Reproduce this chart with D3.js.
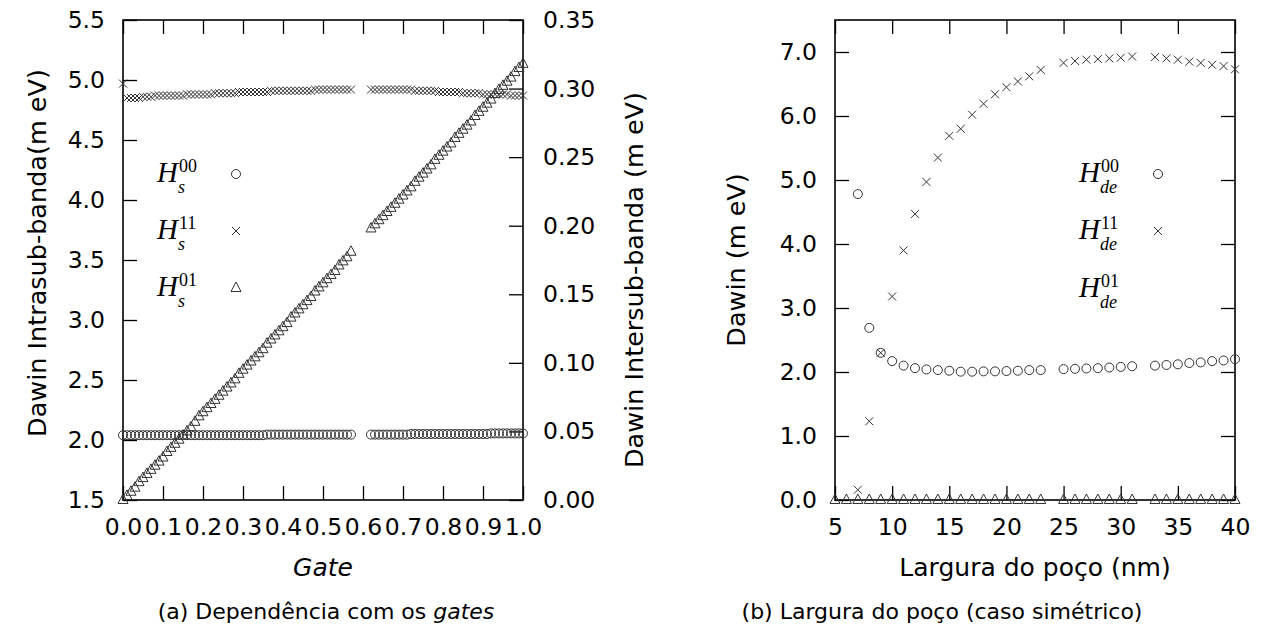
<!DOCTYPE html>
<html>
<head>
<meta charset="utf-8">
<script src="https://cdn.jsdelivr.net/npm/d3@7/dist/d3.min.js"></script>
<style>
  body { margin: 0; background: #fff; }
  svg { display: block; }
  .tick line { stroke: #000; stroke-width: 1.3; }
  .mk { fill: none; stroke: #333; stroke-width: 1; }
</style>
</head>
<body>
<svg width="1272" height="628"></svg>
<script>
// (a) gate dependence
const gate = [
  0.00,0.01,0.02,0.03,0.04,0.05,0.06,0.07,0.08,0.09,
  0.10,0.11,0.12,0.13,0.14,0.15,0.16,0.17,0.18,0.19,
  0.20,0.21,0.22,0.23,0.24,0.25,0.26,0.27,0.28,0.29,
  0.30,0.31,0.32,0.33,0.34,0.35,0.36,0.37,0.38,0.39,
  0.40,0.41,0.42,0.43,0.44,0.45,0.46,0.47,0.48,0.49,
  0.50,0.51,0.52,0.53,0.54,0.55,0.56,0.57,
  0.62,0.63,0.64,0.65,0.66,0.67,0.68,0.69,0.70,0.71,
  0.72,0.73,0.74,0.75,0.76,0.77,0.78,0.79,0.80,0.81,
  0.82,0.83,0.84,0.85,0.86,0.87,0.88,0.89,0.90,0.91,
  0.92,0.93,0.94,0.95,0.96,0.97,0.98,0.99,1.00
];
const hs00 = [
  2.04,2.04,2.04,2.04,2.04,2.04,2.04,2.04,2.04,2.04,
  2.04,2.04,2.04,2.04,2.04,2.04,2.04,2.04,2.04,2.04,
  2.04,2.04,2.04,2.04,2.04,2.04,2.04,2.04,2.04,2.04,
  2.04,2.04,2.04,2.04,2.04,2.04,2.045,2.045,2.045,2.045,
  2.045,2.045,2.045,2.045,2.045,2.045,2.045,2.045,2.045,2.045,
  2.045,2.045,2.045,2.045,2.045,2.045,2.045,2.045,
  2.045,2.045,2.045,2.045,2.045,2.045,2.045,2.045,2.045,2.045,
  2.05,2.05,2.05,2.05,2.05,2.05,2.05,2.05,2.05,2.05,
  2.05,2.05,2.05,2.05,2.05,2.05,2.05,2.05,2.05,2.05,
  2.055,2.055,2.055,2.055,2.055,2.055,2.055,2.055,2.055
];
const hs11 = [
  4.97,4.85,4.85,4.85,4.85,4.86,4.86,4.86,4.87,4.87,
  4.87,4.87,4.87,4.87,4.87,4.87,4.88,4.88,4.88,4.88,
  4.88,4.88,4.88,4.89,4.89,4.89,4.89,4.89,4.89,4.90,
  4.90,4.90,4.90,4.90,4.90,4.90,4.90,4.91,4.91,4.91,
  4.91,4.91,4.91,4.91,4.91,4.91,4.91,4.91,4.92,4.92,
  4.92,4.92,4.92,4.92,4.92,4.92,4.92,4.92,
  4.92,4.92,4.92,4.92,4.92,4.92,4.92,4.92,4.92,4.92,
  4.92,4.91,4.91,4.91,4.91,4.91,4.91,4.90,4.90,4.90,
  4.90,4.90,4.90,4.89,4.89,4.89,4.89,4.89,4.88,4.88,
  4.88,4.88,4.88,4.88,4.88,4.87,4.87,4.87,4.87
];
const hs01 = [
  0.000,0.003,0.006,0.009,0.013,0.016,0.019,0.022,0.025,0.028,
  0.031,0.035,0.038,0.041,0.044,0.047,0.050,0.053,0.057,0.061,
  0.064,0.067,0.070,0.073,0.076,0.079,0.082,0.085,0.088,0.092,
  0.095,0.098,0.101,0.104,0.107,0.110,0.114,0.117,0.120,0.123,
  0.126,0.129,0.133,0.136,0.139,0.142,0.145,0.148,0.152,0.155,
  0.158,0.161,0.164,0.167,0.171,0.174,0.177,0.181,
  0.198,0.201,0.204,0.207,0.210,0.213,0.216,0.219,0.222,0.225,
  0.228,0.232,0.235,0.238,0.241,0.244,0.248,0.251,0.254,0.257,
  0.260,0.264,0.267,0.270,0.273,0.276,0.280,0.283,0.286,0.289,
  0.292,0.296,0.299,0.302,0.305,0.308,0.312,0.315,0.318
];
const gateTicks = [0,0.1,0.2,0.3,0.4,0.5,0.6,0.7,0.8,0.9,1.0];
const intraTicks = [1.5,2.0,2.5,3.0,3.5,4.0,4.5,5.0,5.5];
const interTicks = [0,0.05,0.10,0.15,0.20,0.25,0.30,0.35];

// (b) well width, symmetric case
const largura = [5,6,7,8,9,10,11,12,13,14,15,16,17,18,19,20,21,22,23,
  25,26,27,28,29,30,31, 33,34,35,36,37,38,39,40];
const hde00 = [null,null,4.78,2.69,2.30,2.17,2.10,2.06,2.04,2.03,2.02,2.005,2.005,2.01,2.01,2.015,2.02,2.03,2.03,
  2.045,2.05,2.055,2.06,2.07,2.08,2.09, 2.10,2.11,2.12,2.14,2.15,2.17,2.18,2.20];
const hde11 = [null,null,0.16,1.23,2.30,3.18,3.90,4.47,4.97,5.35,5.69,5.80,6.02,6.19,6.34,6.45,6.54,6.62,6.72,
  6.83,6.86,6.88,6.89,6.90,6.91,6.93, 6.92,6.90,6.88,6.85,6.83,6.80,6.78,6.73];
const hde01 = [0,0,0,0,0,0,0,0,0,0,0,0,0,0,0,0,0,0,0,
  0,0,0,0,0,0,0, 0,0,0,0,0,0,0,0];
const larguraTicks = [5,10,15,20,25,30,35,40];
const dawinTicks = [0,1,2,3,4,5,6,7];

const svg = d3.select('svg');
const tickFont = 'DejaVu Sans';
const tickSize = 23.5;
const TK = 14;

const circle = 'M4.5,0A4.5,4.5 0 1,1 -4.5,0A4.5,4.5 0 1,1 4.5,0Z';
const cross = 'M-4,-4L4,4M-4,4L4,-4';
const tri = 'M0,-6L5,3.5H-5Z';

function styleAxis(g) {
  g.select('.domain').remove();
  g.selectAll('text').attr('font-family', tickFont).attr('font-size', tickSize).attr('fill', '#000');
}

function markers(xs, ys, x, y, shape) {
  const pts = xs.map((d, i) => ({x: d, y: ys[i]})).filter(d => d.y != null);
  svg.append('g').selectAll('path')
    .data(pts)
    .enter()
    .append('path')
    .attr('class', 'mk')
    .attr('d', shape)
    .attr('transform', d => `translate(${x(d.x)},${y(d.y)})`);
}

// H with stacked super/subscript
function legendEntry(x0, base, sup, sub, sym, sx) {
  const t = svg.append('text').attr('font-family', 'Liberation Serif').attr('fill', '#000')
    .attr('x', x0).attr('y', base);
  t.append('tspan').attr('font-size', 29).attr('font-style', 'italic').text('H');
  t.append('tspan').attr('x', x0 + 22).attr('y', base - 10).attr('font-size', 18).text(sup);
  t.append('tspan').attr('x', x0 + 21).attr('y', base + 11).attr('font-size', 18).attr('font-style', 'italic').text(sub);
  if (sym) {
    svg.append('path').attr('class', 'mk').attr('d', sym)
      .attr('transform', `translate(${sx},${base - 8})`);
  }
}

// ---------- panel (a) ----------
const xA = d3.scaleLinear().domain([0, 1]).range([123, 523]);
const yA = d3.scaleLinear().domain([1.5, 5.5]).range([500, 20]);
const yA2 = d3.scaleLinear().domain([0, 0.35]).range([500, 20]);

svg.append('g').attr('transform', 'translate(0,500)')
  .call(d3.axisBottom(xA).tickValues(gateTicks).tickFormat(d3.format('.1f')).tickSizeInner(-TK).tickSizeOuter(0).tickPadding(18))
  .call(styleAxis);
svg.append('g').attr('transform', 'translate(0,20)')
  .call(d3.axisTop(xA).tickValues(gateTicks).tickFormat('').tickSizeInner(-TK).tickSizeOuter(0))
  .call(styleAxis);
svg.append('g').attr('transform', 'translate(123,0)')
  .call(d3.axisLeft(yA).tickValues(intraTicks).tickFormat(d3.format('.1f')).tickSizeInner(-TK).tickSizeOuter(0).tickPadding(18))
  .call(styleAxis);
svg.append('g').attr('transform', 'translate(523,0)')
  .call(d3.axisRight(yA2).tickValues(interTicks).tickFormat(d3.format('.2f')).tickSizeInner(-TK).tickSizeOuter(0).tickPadding(20))
  .call(styleAxis);
svg.append('rect').attr('x', 123).attr('y', 20).attr('width', 400).attr('height', 480)
  .attr('fill', 'none').attr('stroke', '#000').attr('stroke-width', 1.6);

markers(gate, hs00, xA, yA, circle);
markers(gate, hs11, xA, yA, cross);
markers(gate, hs01, xA, yA2, tri);

legendEntry(157, 182, '00', 's', circle, 236);
legendEntry(157, 239, '11', 's', cross, 236);
legendEntry(157, 296, '01', 's', tri, 236);

svg.append('text').attr('transform', 'translate(46,253) rotate(-90)')
  .attr('text-anchor', 'middle').attr('font-family', tickFont).attr('font-size', 25.5)
  .text('Dawin Intrasub-banda(m eV)');
svg.append('text').attr('transform', 'translate(643,280) rotate(-90)')
  .attr('text-anchor', 'middle').attr('font-family', tickFont).attr('font-size', 25.5)
  .text('Dawin Intersub-banda (m eV)');
svg.append('text').attr('x', 323).attr('y', 576).attr('text-anchor', 'middle')
  .attr('font-family', tickFont).attr('font-size', 25).attr('font-style', 'italic').text('Gate');
const capA = svg.append('text').attr('x', 326).attr('y', 619).attr('text-anchor', 'middle')
  .attr('font-family', tickFont).attr('font-size', 22);
capA.append('tspan').text('(a) Dependência com os ');
capA.append('tspan').attr('font-style', 'italic').text('gates');

// ---------- panel (b) ----------
const xB = d3.scaleLinear().domain([5, 40]).range([835, 1235]);
const yB = d3.scaleLinear().domain([0, 7.5]).range([500, 20]);

svg.append('g').attr('transform', 'translate(0,500)')
  .call(d3.axisBottom(xB).tickValues(larguraTicks).tickFormat(d3.format('d')).tickSizeInner(-TK).tickSizeOuter(0).tickPadding(18))
  .call(styleAxis);
svg.append('g').attr('transform', 'translate(0,20)')
  .call(d3.axisTop(xB).tickValues(larguraTicks).tickFormat('').tickSizeInner(-TK).tickSizeOuter(0))
  .call(styleAxis);
svg.append('g').attr('transform', 'translate(835,0)')
  .call(d3.axisLeft(yB).tickValues(dawinTicks).tickFormat(d3.format('.1f')).tickSizeInner(-TK).tickSizeOuter(0).tickPadding(18))
  .call(styleAxis);
svg.append('g').attr('transform', 'translate(1235,0)')
  .call(d3.axisRight(yB).tickValues(dawinTicks).tickFormat('').tickSizeInner(-TK).tickSizeOuter(0))
  .call(styleAxis);
svg.append('rect').attr('x', 835).attr('y', 20).attr('width', 400).attr('height', 480)
  .attr('fill', 'none').attr('stroke', '#000').attr('stroke-width', 1.6);

markers(largura, hde00, xB, yB, circle);
markers(largura, hde11, xB, yB, cross);
markers(largura, hde01, xB, yB, tri);

legendEntry(1079, 182, '00', 'de', circle, 1158);
legendEntry(1079, 239, '11', 'de', cross, 1158);
legendEntry(1079, 297, '01', 'de', null, 1158);

svg.append('text').attr('transform', 'translate(745,260) rotate(-90)')
  .attr('text-anchor', 'middle').attr('font-family', tickFont).attr('font-size', 25.5)
  .text('Dawin (m eV)');
svg.append('text').attr('x', 1035).attr('y', 576).attr('text-anchor', 'middle')
  .attr('font-family', tickFont).attr('font-size', 25).text('Largura do poço (nm)');
svg.append('text').attr('x', 942).attr('y', 619).attr('text-anchor', 'middle')
  .attr('font-family', tickFont).attr('font-size', 22).text('(b) Largura do poço (caso simétrico)');
</script>
</body>
</html>
